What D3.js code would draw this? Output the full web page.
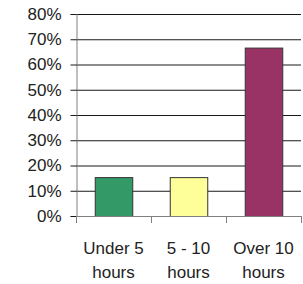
<!DOCTYPE html>
<html><head><meta charset="utf-8">
<script src="https://cdn.jsdelivr.net/npm/d3@7"></script>
<style>html,body{margin:0;padding:0;background:#fff;}</style>
</head><body>
<script>
const categories = [["Under 5", "hours"], ["5 - 10", "hours"], ["Over 10", "hours"]];
const values = [15.4, 15.4, 66.7];
const colors = ["#339966", "#FFFF99", "#993366"];
const yTicks = [0, 10, 20, 30, 40, 50, 60, 70, 80];

(function () {
const W = 303, H = 284;
const mLeft = 76, mRight = 301, mTop = 14, mBottom = 216;
const svg = d3.select("body").append("svg").attr("width", W).attr("height", H)
  .style("font-family", "'Liberation Sans', Arial, sans-serif");

const x = d3.scaleBand().domain(d3.range(categories.length)).range([mLeft, mRight]).paddingInner(0.5).paddingOuter(0.25);
const xb = d3.scaleLinear().domain([0, categories.length]).range([mLeft, mRight]);
const y = d3.scaleLinear().domain([0, 80]).range([mBottom, mTop]);

// gridlines
svg.append("g").selectAll("line").data(yTicks.filter(d => d > 0)).join("line")
  .attr("x1", mLeft).attr("x2", mRight)
  .attr("y1", d => y(d) + 0.5).attr("y2", d => y(d) + 0.5)
  .attr("stroke", "#1a1a1a").attr("stroke-width", 1);

// y axis
const yAxis = d3.axisLeft(y).tickValues(yTicks).tickFormat(d => d + "%").tickSize(6).tickPadding(9);
const gy = svg.append("g").attr("transform", `translate(${mLeft + 0.5},0)`).call(yAxis);
gy.select(".domain").attr("stroke", "#808080");
gy.selectAll(".tick line").attr("stroke", "#1a1a1a");
gy.selectAll(".tick text").attr("font-size", 17).attr("fill", "#222").attr("font-family", "'Liberation Sans', Arial, sans-serif");

// bars
svg.append("g").selectAll("rect").data(values).join("rect")
  .attr("x", (d, i) => x(i) + 0.5).attr("width", x.bandwidth())
  .attr("y", d => y(d) + 0.5).attr("height", d => y(0) - y(d))
  .attr("fill", (d, i) => colors[i]).attr("stroke", "#333").attr("stroke-width", 1);

// x axis
svg.append("line").attr("x1", mLeft).attr("x2", mRight).attr("y1", mBottom + 0.5).attr("y2", mBottom + 0.5).attr("stroke", "#808080");
svg.append("g").selectAll("line").data(d3.range(categories.length + 1)).join("line")
  .attr("x1", d => Math.round(xb(d)) + 0.5).attr("x2", d => Math.round(xb(d)) + 0.5)
  .attr("y1", mBottom).attr("y2", mBottom + 7).attr("stroke", "#808080");

const lab = svg.append("g").selectAll("text").data(categories).join("text")
  .attr("text-anchor", "middle").attr("font-size", 17).attr("fill", "#222")
  .attr("x", (d, i) => x(i) + x.bandwidth() / 2);
lab.each(function (d) {
  const t = d3.select(this);
  d.forEach((s, k) => t.append("tspan").attr("x", t.attr("x")).attr("y", 254 + k * 24).text(s));
});
})();
</script>
</body></html>
